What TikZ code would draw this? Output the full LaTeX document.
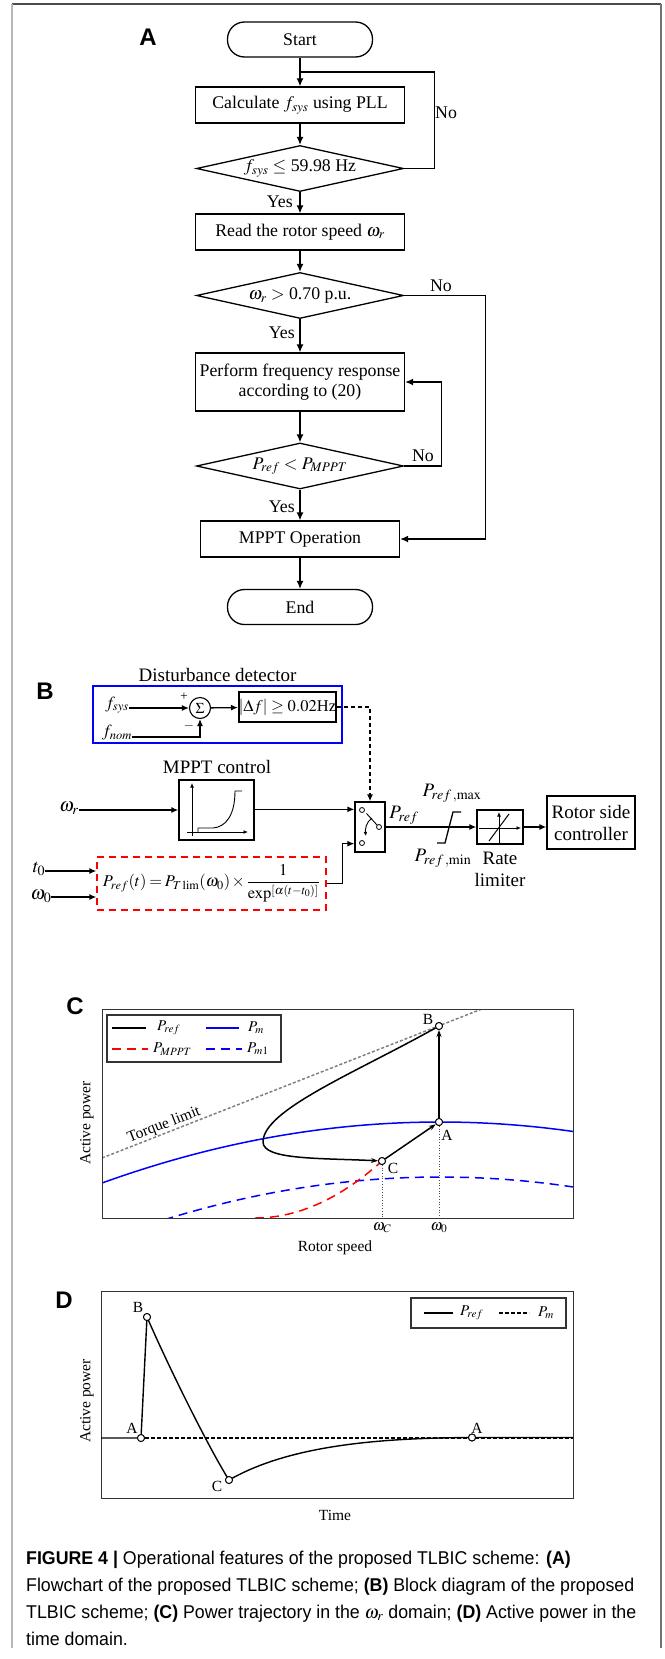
\documentclass[tikz,border=0pt]{standalone}
\usepackage{mathptmx}
\usepackage[no-math]{fontspec}
\setmainfont{Liberation Serif}
\newfontfamily\capfont[FakeStretch=0.96]{Liberation Sans}
\newfontfamily\panelfont{Liberation Sans}
\usetikzlibrary{shapes.geometric,arrows.meta,calc}
\begin{document}
\begin{tikzpicture}[x=1pt,y=-1pt,
  every node/.style={inner sep=0pt},
  fc/.style={font=\fontsize{17.8}{20.5}\selectfont},
  bd/.style={font=\fontsize{19}{22}\selectfont},
  lab/.style={font=\fontsize{17}{19}\selectfont},
  pf/.style={font=\fontsize{15.5}{18}\selectfont},
  lg/.style={font=\fontsize{15}{17}\selectfont},
  pl/.style={font=\fontsize{24}{24}\selectfont\panelfont\bfseries},
  captxt/.style={font=\fontsize{18.5}{27}\selectfont\capfont},
  fbox/.style={draw, line width=1.3pt, fc, minimum width=209pt, minimum height=36pt, align=center},
  term/.style={draw, line width=1.3pt, fc, rounded corners=17pt, minimum width=145pt, minimum height=35pt},
  dia/.style={draw, shape=diamond, line width=1.3pt, fc, minimum width=207pt, minimum height=46pt, aspect=4.5},
  ar/.style={line width=1.3pt, -{Latex[length=8pt,width=7pt]}},
  ar2/.style={line width=1.3pt, -{Latex[length=7pt,width=6pt]}},
  ln/.style={line width=1.3pt},
  thinar/.style={line width=0.9pt, -{Latex[length=4.5pt,width=4pt]}},
  tr/.style={line width=1.5pt, -{Stealth[length=7pt,width=5pt]}},
  pt/.style={circle, draw, fill=white, line width=0.9pt, minimum size=7pt},
  plotframe/.style={draw=black!80, line width=1pt},
  legframe/.style={draw=black!80, line width=1.2pt}
]
\useasboundingbox (0,0) rectangle (664,1659);
% page frame
\draw[line width=1.2pt, black!70] (12,4) -- (661,4);
\draw[line width=2pt, black!28] (12,4) -- (12,1648);
\draw[line width=1.3pt, black!55] (661,4) -- (661,1648);

% ================= A: flowchart =================
\node[pl] (lA) at (148,37) {A};
\node[term] (start) at (300,39.5) {Start};
\node[fbox] (calc) at (300,105) {Calculate $f_{sys}$ using PLL};
\node[dia] (d1) at (300,168.5) {$f_{sys}\leq$ 59.98 Hz};
\node[fbox] (read) at (300,232) {Read the rotor speed $\omega_r$};
\node[dia] (d2) at (300,295.5) {$\omega_r>$ 0.70 p.u.};
\node[fbox, minimum height=58pt] (perf) at (300,382) {Perform frequency response\\according to (20)};
\node[dia] (d3) at (300,466) {$P_{ref}<P_{MPPT}$};
\node[fbox, minimum width=199pt] (mppt) at (300,539) {MPPT Operation};
\node[term] (end) at (300,607) {End};
\coordinate (j1) at (300,72);

\draw[ar] (start) -- (calc);
\draw[ln] (d1.east) -- ++(30,0) |- (j1);
\node[fc, anchor=west] (no1) at (435,113) {No};
\draw[ar] (calc) -- (d1);
\draw[ar] (d1) -- (read);
\node[fc, anchor=east] (yes1) at (293,202) {Yes};
\draw[ar] (read) -- (d2);
\draw[ar] (d2.east) -- ++(81,0) |- (mppt.east);
\node[fc] (no2) at (441,286) {No};
\draw[ar] (d2) -- (perf);
\node[fc, anchor=east] (yes2) at (295,333) {Yes};
\draw[ar] (perf) -- (d3);
\draw[ar] (d3.east) -- ++(37,0) |- (perf.east);
\node[fc] (no3) at (423,456) {No};
\draw[ar] (d3) -- (mppt);
\node[fc, anchor=east] (yes3) at (295,507) {Yes};
\draw[ar] (mppt) -- (end);

% ================= B: block diagram =================
\node[pl] (lB) at (45,691) {B};
\node[bd] (ddt) at (217.5,675) {Disturbance detector};
\draw[blue, line width=1.3pt] (93,686) rectangle (342,743);
\node[lab] (fsys) at (117,705) {$f_{sys}$};
\node[draw, circle, line width=1.1pt, minimum size=21pt, font=\fontsize{15}{15}\selectfont] (sig) at (200,708) {$\Sigma$};
\node[font=\fontsize{13}{13}\selectfont] (plus) at (184,697) {+};
\node[font=\fontsize{13}{13}\selectfont] (minus) at (189,726) {$-$};
\node[lab] (fnom) at (117,733) {$f_{nom}$};
\node[draw, line width=1.6pt, minimum width=97pt, minimum height=30pt, font=\fontsize{16.5}{18}\selectfont] (df) at (287.5,707) {$|\Delta f|\geq 0.02$Hz};
\draw[ar2] (sig.west -| fsys.east) -- (sig.west);
\draw[ar2] ($(fnom.east)+(0,4)$) -| (sig.south);
\draw[ar2] (sig) -- (df);

\node[bd] (mctl) at (217,767) {MPPT control};
\node[draw, line width=1.3pt, minimum width=75pt, minimum height=60pt] (mpc) at (216.5,810) {};
\draw[thinar] (192,836) -- (192,783);
\draw[thinar] (187,832) -- (248,832);
\draw[line width=0.9pt] (198,832) -- (198,828) -- (213,828) .. controls (226,827) and (235,815) .. (235,791) -- (242,791);
\node[bd] (wr) at (69,808) {$\omega_r$};

\node[draw, line width=1.3pt, minimum width=30pt, minimum height=50pt] (sw) at (370,827) {};
\coordinate (swin1) at ($(sw.north west)+(0,8)$);
\coordinate (swin2) at ($(sw.south west)+(0,-9)$);
\draw[ar2] (wr.east |- mpc.west) -- (mpc.west);
\draw[ar2] (mpc.east |- swin1) -- (swin1);
\draw[ar2, dash pattern=on 4pt off 3pt] (df.east) -| (sw.north);
% switch internals
\draw[line width=0.9pt] (377,825) -- (366.5,813.5);
\draw[line width=0.9pt, -{Latex[length=4pt,width=3.5pt]}] (372,818) .. controls (366,822) and (365,830) .. (366,836);
\node[pt, minimum size=5pt, line width=0.8pt] (c1) at (362,810) {};
\node[pt, minimum size=5pt, line width=0.8pt] (c2) at (379,827) {};
\node[pt, minimum size=5pt, line width=0.8pt] (c3) at (362,843) {};

\node[draw, line width=1.3pt, minimum width=46pt, minimum height=34pt] (rl) at (500,827) {};
\draw[thinar] (479,828) -- (521,828);
\draw[thinar] (499,843) -- (499,812);
\draw[line width=1pt] (489,841) -- (509,814);
\node[draw, line width=1.3pt, minimum width=88pt, minimum height=53pt, align=center, bd] (rsc) at (591,822.5) {Rotor side\\controller};
\draw[ar2] (sw.east) -- (rl.west);
\draw[ar2] (rl.east) -- (rl.east -| rsc.west);
\draw[ln] (437,843) -- (445,843) -- (453,812) -- (461,812);
\node[bd] (pref) at (404,815) {$P_{ref}$};
\node[bd] (pmax) at (452,793) {$P_{ref\,,\mathrm{max}}$};
\node[bd] (pmin) at (443,858) {$P_{ref\,,\mathrm{min}}$};
\node[bd] (rate) at (500,858) {Rate};
\node[bd] (lim) at (500,880) {limiter};

\node[bd] (t0) at (39,869) {$t_0$};
\node[bd] (w0) at (41,896) {$\omega_0$};
\node[draw=red, line width=1.3pt, dash pattern=on 7pt off 5pt, minimum width=229pt, minimum height=53pt, font=\fontsize{16.5}{18}\selectfont] (form) at (211.5,883.5)
  {\thickmuskip=3mu\medmuskip=2mu$P_{ref}(t)=P_{T\,\mathrm{lim}}(\omega_0)\times{\displaystyle\frac{1}{\exp^{[\alpha(t-t_0)]}}}$};
\draw[ar2] (t0.east |- 0,871) -- (form.west |- 0,871);
\draw[ar2] (w0.east |- 0,897) -- (form.west |- 0,897);
\draw[ar2] (form.east) -- ++(16,0) |- (swin2);

% ================= C: power trajectory =================
\node[pl] (lC) at (75,1006) {C};
\begin{scope}
\clip (102,1009) rectangle (573,1218);
\draw[black!50, line width=1.5pt, dash pattern=on 3pt off 2pt] (102,1158) -- (520,994);
\draw[blue, line width=1.5pt] plot[domain=102:573, samples=60] (\x, {1122+5.34*((\x-440)/100)^2});
\draw[blue, line width=1.5pt, dash pattern=on 9pt off 6pt] plot[domain=150:573, samples=60] (\x, {1177+5.62*((\x-440)/100)^2});
\draw[red, line width=1.5pt, dash pattern=on 9pt off 6pt] plot[domain=255:382, samples=40] (\x, {1218-35.3*((\x-255)/100)^2});
\end{scope}
\node[pf, rotate=21.4] (tlim) at (164,1125) {Torque limit};
\node[pt] (pA) at (439,1122) {};
\node[pt] (pB) at (439,1026) {};
\node[pt] (pC) at (382,1161) {};
\coordinate (axC) at (382,1218);
\coordinate (ax0) at (439,1218);
\draw[black!70, line width=0.7pt, dotted] (pC) -- (axC);
\draw[black!70, line width=0.7pt, dotted] (pA) -- (ax0);
\coordinate (nose) at (263,1142);
\draw[line width=1.5pt] (pB) .. controls (355,1073) and (263,1110) .. (nose);
\draw[tr] (nose) .. controls (263,1160) and (320,1158) .. (pC);
\draw[tr] (pC) -- (pA);
\draw[tr] (pA) -- (pB);
\node[pt] at (pA) {};
\node[pt] at (pB) {};
\node[pt] at (pC) {};
\node[pf] (lbA) at (447,1135) {A};
\node[pf] (lbB) at (428,1019) {B};
\node[pf] (lbC) at (393,1168) {C};
\draw[plotframe] (102,1009) rectangle (573,1218);
\draw[legframe] (107,1015) rectangle (281,1062);
\draw[line width=1.5pt] (112,1028) -- (146,1028);
\node[lg, anchor=west] (lgPref) at (157,1028) {$P_{ref}$};
\draw[blue, line width=1.5pt] (206,1028) -- (239,1028);
\node[lg, anchor=west] (lgPm) at (248,1028) {$P_m$};
\draw[red, line width=1.5pt, dash pattern=on 9pt off 6pt] (112,1049) -- (148,1049);
\node[lg, anchor=west] (lgPmppt) at (153,1049) {$P_{MPPT}$};
\draw[blue, line width=1.5pt, dash pattern=on 9pt off 6pt] (206,1049) -- (242,1049);
\node[lg, anchor=west] (lgPm1) at (247,1049) {$P_{m1}$};
\node[pf] (wC) at (382,1228) {$\omega_C$};
\node[pf] (w0l) at (439,1228) {$\omega_0$};
\node[pf] (rsp) at (335,1248) {Rotor speed};
\node[pf, rotate=90] (apC) at (87,1123) {Active power};

% ================= D: time domain =================
\node[pl] (lD) at (64,1300) {D};
\draw[plotframe] (101,1291) rectangle (573,1498);
\coordinate (dL) at (101,1438);
\coordinate (dR) at (573,1438);
\node[pt] (qA1) at (141,1438) {};
\node[pt] (qB) at (147,1317) {};
\node[pt] (qC) at (229,1480) {};
\node[pt] (qA2) at (472,1437.5) {};
\draw[line width=1.2pt, dash pattern=on 4pt off 2pt] (qA1) -- (dR);
\draw[line width=1.4pt] (dL) -- (qA1.center) -- (qB.center) .. controls (170,1370) and (210,1450) .. (qC.center)
   .. controls (290,1445) and (380,1438) .. (qA2.center) -- (573,1437.5);
\node[pt] at (qA1) {};
\node[pt] at (qB) {};
\node[pt] at (qC) {};
\node[pt] at (qA2) {};
\node[pf] (dlB) at (138,1307) {B};
\node[pf] (dlA1) at (132,1428) {A};
\node[pf] (dlA2) at (477,1428) {A};
\node[pf] (dlC) at (217,1486) {C};
\draw[legframe] (411,1298) rectangle (566,1328);
\draw[line width=1.4pt] (424,1313) -- (453,1313);
\node[lg, anchor=west] (lgDref) at (460,1313) {$P_{ref}$};
\draw[line width=1.2pt, dash pattern=on 4pt off 2pt] (499,1313) -- (529,1313);
\node[lg, anchor=west] (lgDm) at (538,1313) {$P_m$};
\node[pf, rotate=90] (apD) at (87,1401) {Active power};
\node[pf] (time) at (335,1515) {Time};

% ================= caption =================
\node[captxt, anchor=base west] (cap1) at (26,1564) {\textbf{FIGURE 4} \textbf{|} Operational features of the proposed TLBIC scheme: \textbf{(A)}};
\node[captxt, anchor=base west] (cap2) at (26,1591) {Flowchart of the proposed TLBIC scheme; \textbf{(B)} Block diagram of the proposed};
\node[captxt, anchor=base west] (cap3) at (26,1618) {TLBIC scheme; \textbf{(C)} Power trajectory in the $\omega_r$ domain; \textbf{(D)} Active power in the};
\node[captxt, anchor=base west] (cap4) at (26,1645) {time domain.};
\end{tikzpicture}
\end{document}
